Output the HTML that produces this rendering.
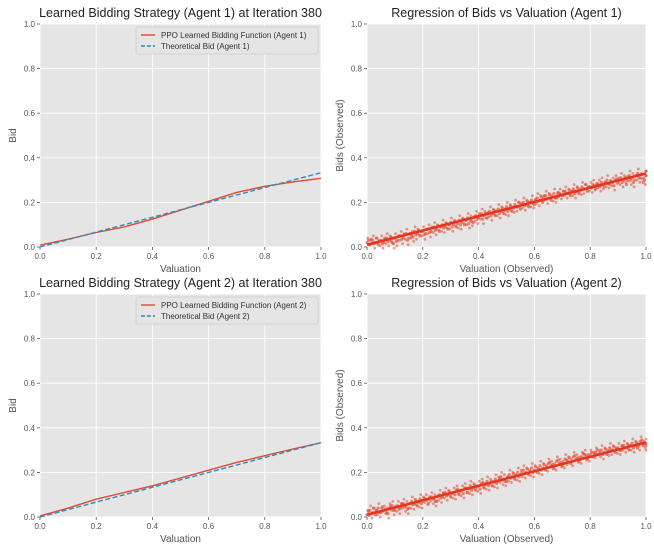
<!DOCTYPE html>
<html><head><meta charset="utf-8"><style>
html,body{margin:0;padding:0;background:#fff;}
svg{display:block;font-family:"Liberation Sans","DejaVu Sans",sans-serif;}
</style></head><body>
<svg id="fig" width="654" height="546" viewBox="0 0 654 546"></svg>
<script>
const ticks = [0, 0.2, 0.4, 0.6, 0.8, 1.0];
const tickLabels = ["0.0","0.2","0.4","0.6","0.8","1.0"];
const lineVals = [0,0.1,0.2,0.3,0.4,0.5,0.6,0.7,0.8,0.9,1.0];
const ppoAgent1 = [0.008,0.035,0.065,0.09,0.125,0.165,0.205,0.245,0.272,0.292,0.308];
const theoAgent1 = [0,0.0333,0.0667,0.1,0.1333,0.1667,0.2,0.2333,0.2667,0.3,0.3333];
const ppoAgent2 = [0.005,0.04,0.08,0.11,0.14,0.175,0.21,0.245,0.275,0.305,0.333];
const theoAgent2 = [0,0.0333,0.0667,0.1,0.1333,0.1667,0.2,0.2333,0.2667,0.3,0.3333];
const scatterV = [0,0.01,0.02,0.03,0.04,0.05,0.06,0.07,0.08,0.09,0.1,0.11,0.12,0.13,0.14,0.15,0.16,0.17,0.18,0.19,0.2,0.21,0.22,0.23,0.24,0.25,0.26,0.27,0.28,0.29,0.3,0.31,0.32,0.33,0.34,0.35,0.36,0.37,0.38,0.39,0.4,0.41,0.42,0.43,0.44,0.45,0.46,0.47,0.48,0.49,0.5,0.51,0.52,0.53,0.54,0.55,0.56,0.57,0.58,0.59,0.6,0.61,0.62,0.63,0.64,0.65,0.66,0.67,0.68,0.69,0.7,0.71,0.72,0.73,0.74,0.75,0.76,0.77,0.78,0.79,0.8,0.81,0.82,0.83,0.84,0.85,0.86,0.87,0.88,0.89,0.9,0.91,0.92,0.93,0.94,0.95,0.96,0.97,0.98,0.99,1.0];
const bidsA1 = [0.02,0.01,0.03,0.02,0.01,0.03,0.02,0.04,0.03,0.02,0.04,0.03,0.05,0.04,0.06,0.04,0.05,0.07,0.06,0.05,0.07,0.06,0.08,0.07,0.09,0.08,0.07,0.1,0.09,0.08,0.11,0.1,0.09,0.12,0.11,0.1,0.13,0.12,0.11,0.14,0.13,0.15,0.14,0.13,0.16,0.15,0.14,0.17,0.16,0.15,0.18,0.17,0.16,0.19,0.18,0.17,0.2,0.19,0.18,0.21,0.19,0.22,0.21,0.2,0.23,0.22,0.21,0.24,0.22,0.24,0.23,0.25,0.24,0.23,0.26,0.25,0.24,0.27,0.26,0.25,0.27,0.28,0.26,0.28,0.29,0.27,0.3,0.28,0.29,0.3,0.29,0.31,0.3,0.28,0.32,0.31,0.3,0.33,0.31,0.29,0.32];
const bidsB1 = [0.03,0.035,0.015,0.04,0.025,0.015,0.035,0.025,0.045,0.015,0.025,0.05,0.035,0.055,0.03,0.06,0.045,0.055,0.075,0.07,0.055,0.08,0.065,0.085,0.075,0.095,0.09,0.085,0.105,0.1,0.09,0.115,0.105,0.1,0.125,0.12,0.105,0.115,0.135,0.125,0.145,0.125,0.15,0.155,0.14,0.165,0.16,0.15,0.175,0.165,0.16,0.185,0.175,0.18,0.2,0.195,0.185,0.205,0.2,0.195,0.215,0.205,0.225,0.23,0.215,0.235,0.225,0.22,0.245,0.235,0.25,0.24,0.255,0.25,0.24,0.265,0.255,0.26,0.28,0.27,0.265,0.275,0.285,0.27,0.28,0.29,0.285,0.295,0.275,0.305,0.3,0.29,0.31,0.315,0.3,0.29,0.32,0.31,0.325,0.3,0.34];
const bidsA2 = [0.01,0.03,0.02,0.01,0.04,0.02,0.03,0.02,0.04,0.05,0.03,0.05,0.04,0.06,0.05,0.04,0.07,0.06,0.05,0.08,0.07,0.08,0.06,0.09,0.08,0.07,0.1,0.09,0.11,0.1,0.09,0.11,0.12,0.1,0.12,0.13,0.11,0.14,0.13,0.12,0.14,0.15,0.13,0.16,0.15,0.14,0.17,0.16,0.18,0.17,0.16,0.19,0.18,0.17,0.2,0.19,0.21,0.2,0.19,0.22,0.21,0.2,0.23,0.22,0.21,0.24,0.23,0.22,0.25,0.24,0.23,0.26,0.25,0.24,0.27,0.26,0.25,0.27,0.28,0.26,0.28,0.27,0.29,0.28,0.3,0.29,0.28,0.31,0.3,0.29,0.31,0.3,0.32,0.31,0.3,0.33,0.32,0.31,0.34,0.32,0.33];
const bidsB2 = [0.025,0.015,0.04,0.03,0.02,0.045,0.035,0.015,0.05,0.03,0.045,0.035,0.06,0.045,0.035,0.06,0.055,0.075,0.065,0.06,0.085,0.075,0.09,0.08,0.07,0.095,0.085,0.105,0.095,0.115,0.105,0.1,0.125,0.115,0.105,0.13,0.125,0.12,0.145,0.135,0.125,0.155,0.145,0.14,0.16,0.155,0.15,0.175,0.165,0.16,0.18,0.175,0.195,0.185,0.18,0.2,0.195,0.215,0.205,0.2,0.225,0.215,0.21,0.235,0.225,0.245,0.235,0.23,0.255,0.245,0.24,0.255,0.265,0.25,0.275,0.265,0.26,0.285,0.275,0.27,0.29,0.285,0.3,0.29,0.28,0.305,0.295,0.3,0.315,0.305,0.3,0.32,0.31,0.325,0.32,0.31,0.335,0.32,0.345,0.33,0.32];
const fit1 = [0.01, 0.33];
const fit2 = [0.01, 0.335];

const NS = "http://www.w3.org/2000/svg";
const svg = document.getElementById('fig');
function mk(tag, attrs, parent, text){
  const e = document.createElementNS(NS, tag);
  for (const k in attrs) e.setAttribute(k, attrs[k]);
  if (text !== undefined) e.textContent = text;
  (parent || svg).appendChild(e);
  return e;
}
function panel(id, x0, x1, yTop, yBot, title, xlabel, ylabel){
  const g = mk('g', {});
  
  
  const sx = v => x0 + v * (x1 - x0);
  const sy = v => yBot - v * (yBot - yTop);
  const bg = mk('rect', {x:x0, y:yTop, width:x1-x0, height:yBot-yTop, fill:'#e5e5e5'}, g);
  
  
  ticks.forEach((t, i) => {
    mk('line', {x1:sx(t), x2:sx(t), y1:yTop, y2:yBot, stroke:'#fff', 'stroke-width':0.9}, g);
    mk('line', {x1:x0, x2:x1, y1:sy(t), y2:sy(t), stroke:'#fff', 'stroke-width':0.9}, g);
    mk('line', {x1:sx(t), x2:sx(t), y1:yBot, y2:yBot+3, stroke:'#555', 'stroke-width':0.8}, g);
    mk('line', {x1:x0-3, x2:x0, y1:sy(t), y2:sy(t), stroke:'#555', 'stroke-width':0.8}, g);
    const xt = mk('text', {x:sx(t), y:yBot+12, 'font-size':8, fill:'#555', 'text-anchor':'middle'}, g, tickLabels[i]);
    
    
    const yt = mk('text', {x:x0-5, y:sy(t)+3, 'font-size':8, fill:'#555', 'text-anchor':'end'}, g, tickLabels[i]);
    
    
  });
  const tt = mk('text', {x:(x0+x1)/2, y:yTop-7, 'font-size':12.5, fill:'#222', 'text-anchor':'middle'}, g, title);
  
  
  const xl = mk('text', {x:(x0+x1)/2, y:yBot+25, 'font-size':10, fill:'#555', 'text-anchor':'middle'}, g, xlabel);
  
  
  const yl = mk('text', {x:0, y:0, 'font-size':10, fill:'#555', 'text-anchor':'middle', transform:`translate(${x0-24},${(yTop+yBot)/2}) rotate(-90)`}, g, ylabel);
  
  
  return {g, sx, sy};
}
function linePanel(id, yTop, yBot, agent, ppo, theo){
  const p = panel(id, 40, 321, yTop, yBot, `Learned Bidding Strategy (Agent ${agent}) at Iteration 380`, 'Valuation', 'Bid');
  const d1 = ppo.map((v,i)=>(i?'L':'M')+p.sx(lineVals[i]).toFixed(1)+','+p.sy(v).toFixed(1)).join('');
  const l1 = mk('path', {d:d1, fill:'none', stroke:'#e24a33', 'stroke-width':1.4, 'stroke-linejoin':'round'}, p.g);
  
  
  const d2 = theo.map((v,i)=>(i?'L':'M')+p.sx(lineVals[i]).toFixed(1)+','+p.sy(v).toFixed(1)).join('');
  const l2 = mk('path', {d:d2, fill:'none', stroke:'#348abd', 'stroke-width':1.4, 'stroke-dasharray':'5,2.5'}, p.g);
  
  
  const lg = mk('g', {}, p.g);
  
  
  mk('rect', {x:136, y:yTop+3, width:182, height:27, fill:'#e5e5e5', stroke:'#ccc', 'stroke-width':0.8, rx:2}, lg);
  mk('line', {x1:141, x2:155, y1:yTop+11, y2:yTop+11, stroke:'#e24a33', 'stroke-width':1.4}, lg);
  mk('text', {x:161, y:yTop+14, 'font-size':8, fill:'#333'}, lg, `PPO Learned Bidding Function (Agent ${agent})`);
  mk('line', {x1:141, x2:155, y1:yTop+22, y2:yTop+22, stroke:'#348abd', 'stroke-width':1.4, 'stroke-dasharray':'4,2'}, lg);
  mk('text', {x:161, y:yTop+25, 'font-size':8, fill:'#333'}, lg, `Theoretical Bid (Agent ${agent})`);
}
function scatterPanel(id, yTop, yBot, agent, ba, bb, fit){
  const p = panel(id, 367, 646, yTop, yBot, `Regression of Bids vs Valuation (Agent ${agent})`, 'Valuation (Observed)', 'Bids (Observed)');
  [ba, bb].forEach((arr, k) => {
    arr.forEach((b, i) => {
      const v = Math.min(1, scatterV[i] + k*0.005);
      const c = mk('circle', {cx:p.sx(v), cy:p.sy(b), r:1.6, fill:'#e24a33', 'fill-opacity':0.65}, p.g);
      
      
      const c2 = mk('circle', {cx:p.sx(Math.min(1, v+0.0025)), cy:p.sy(b + (k ? -0.02 : 0.02)), r:1.4, fill:'#e24a33', 'fill-opacity':0.55}, p.g);
      
      
    });
  });
  const rl = mk('line', {x1:p.sx(0), y1:p.sy(fit[0]), x2:p.sx(1), y2:p.sy(fit[1]), stroke:'#e8331c', 'stroke-width':2.5}, p.g);
  
  
}
linePanel('panel-agent1-strategy', 24, 247, 1, ppoAgent1, theoAgent1);
scatterPanel('panel-agent1-regression', 24, 247, 1, bidsA1, bidsB1, fit1);
linePanel('panel-agent2-strategy', 294, 517, 2, ppoAgent2, theoAgent2);
scatterPanel('panel-agent2-regression', 294, 517, 2, bidsA2, bidsB2, fit2);
</script>
</body></html>
